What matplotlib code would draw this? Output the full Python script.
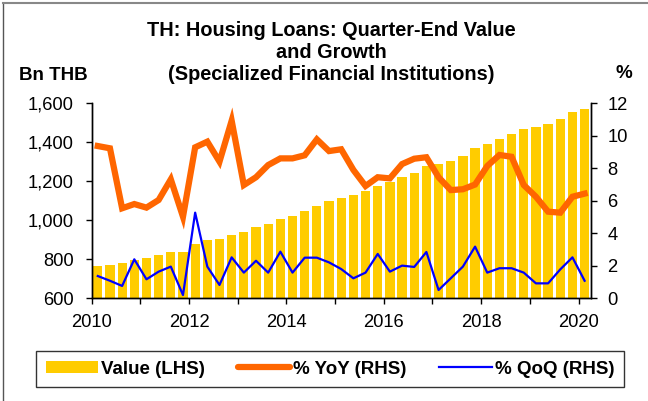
import numpy as np
import matplotlib
matplotlib.use("Agg")
import matplotlib.pyplot as plt
from matplotlib.patches import Patch
from matplotlib.lines import Line2D

plt.rcParams["font.family"] = ["Liberation Sans", "DejaVu Sans"]

# quarterly data, Q1 2010 .. Q1 2020
start_year = 2010
value_bn = [766, 772, 779, 796, 807, 820, 836, 837, 880, 897, 904, 926, 942, 966,
            979, 1007, 1022, 1048, 1073, 1097, 1116, 1130, 1149, 1178, 1198, 1222,
            1244, 1278, 1287, 1304, 1328, 1371, 1391, 1417, 1444, 1467, 1478, 1494,
            1518, 1557, 1572]
yoy_pct = [9.37, 9.23, 5.54, 5.80, 5.58, 6.05, 7.32, 5.02, 9.29, 9.64, 8.41, 10.93,
           6.97, 7.45, 8.20, 8.61, 8.61, 8.80, 9.78, 9.06, 9.17, 7.90, 6.91, 7.45,
           7.38, 8.26, 8.59, 8.68, 7.45, 6.66, 6.71, 7.00, 8.14, 8.82, 8.71, 6.97,
           6.25, 5.33, 5.27, 6.25, 6.44]
qoq_pct = [1.37, 1.08, 0.76, 2.40, 1.17, 1.64, 1.95, 0.20, 5.27, 1.95, 0.82, 2.52,
           1.58, 2.31, 1.58, 2.87, 1.58, 2.50, 2.50, 2.21, 1.80, 1.23, 1.58, 2.73,
           1.64, 2.01, 1.93, 2.85, 0.51, 1.23, 1.95, 3.18, 1.58, 1.85, 1.85, 1.58,
           0.92, 0.92, 1.78, 2.52, 1.08]

# each quarter sits in the middle of its quarter on a year axis
x = start_year + 0.25 * np.arange(len(value_bn)) + 0.125

fig = plt.figure(figsize=(6.48, 4.01), dpi=100)
ax = fig.add_axes([91.7 / 648, 1 - 298.3 / 401, 499 / 648, 195 / 401])
ax2 = ax.twinx()

ax.bar(x, value_bn, width=0.19, color="#FFCC00", zorder=2)
ax2.plot(x, yoy_pct, color="#FF6600", lw=4.5, solid_joinstyle="miter", zorder=3)
ax2.plot(x, qoq_pct, color="#0000FF", lw=1.6, zorder=4)

ax.set_xlim(2010, 2020.25)
ax.set_ylim(600, 1600)
ax2.set_ylim(0, 12)
ax.set_xticks(np.arange(2010, 2021, 1))
ax.set_xticklabels([str(y) if y % 2 == 0 else "" for y in range(2010, 2021)])
ax.set_yticks(np.arange(600, 1601, 200))
ax.set_yticklabels([f"{v:,}" for v in range(600, 1601, 200)])
ax2.set_yticks(np.arange(0, 13, 2))

for a in (ax, ax2):
    a.spines["top"].set_visible(False)
    for s in ("left", "right", "bottom"):
        a.spines[s].set_linewidth(1.0)
    a.tick_params(length=4, width=1.0, labelsize=13.2, direction="out")
ax.tick_params(axis="y", pad=9)
ax.tick_params(axis="x", pad=7)
ax2.tick_params(axis="y", pad=8)

title_kw = dict(ha="center", va="center", fontsize=14.3, fontweight="bold")
fig.text(331 / 648, 1 - 31 / 401, "TH: Housing Loans: Quarter-End Value", **title_kw)
fig.text(331 / 648, 1 - 53 / 401, "and Growth", **title_kw)
fig.text(331 / 648, 1 - 74 / 401, "(Specialized Financial Institutions)", **title_kw)
fig.text(19 / 648, 1 - 75 / 401, "Bn THB", ha="left", va="center",
         fontsize=13.5, fontweight="bold")
fig.text(624 / 648, 1 - 73 / 401, "%", ha="center", va="center",
         fontsize=13.5, fontweight="bold")

handles = [Patch(facecolor="#FFCC00", edgecolor="none"),
           Line2D([], [], color="#FF6600", lw=4.5, solid_capstyle="round"),
           Line2D([], [], color="#0000FF", lw=1.6)]
leg = fig.legend(handles, ["Value (LHS)", "% YoY (RHS)", "% QoQ (RHS)"],
                 loc="center", bbox_to_anchor=(330 / 648, 1 - 369 / 401),
                 ncol=3, frameon=True, fancybox=False, edgecolor="black",
                 prop={"weight": "bold", "size": 13.5}, handlelength=2.8,
                 handleheight=0.55, handletextpad=0.15, columnspacing=1.75,
                 borderpad=0.5, borderaxespad=0)
leg.get_frame().set_linewidth(1.0)

# outer frame of the chart
fig.add_artist(Line2D([3 / 648, 3 / 648], [0, 1 - 3 / 401], color="#555555", lw=1.0))
fig.add_artist(Line2D([3 / 648, 1], [1 - 3 / 401, 1 - 3 / 401], color="#888888", lw=1.5))

fig.savefig("out.png", dpi=100)
